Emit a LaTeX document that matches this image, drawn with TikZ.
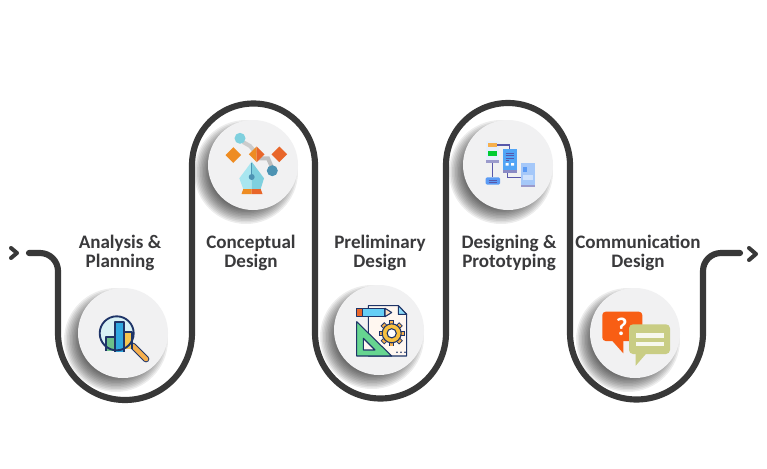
\documentclass[tikz,border=0pt]{standalone}
\usepackage{fontspec}
\setmainfont{Carlito}
\usetikzlibrary{calc}
\definecolor{myline}{RGB}{56,56,56}
\definecolor{mytext}{RGB}{58,58,60}
\definecolor{mydisc}{RGB}{241,241,242}
\definecolor{mynavy}{RGB}{30,52,104}
\definecolor{myorange}{RGB}{238,140,34}
\definecolor{myred}{RGB}{232,102,42}
\definecolor{mycyan}{RGB}{127,208,222}
\definecolor{mypale}{RGB}{168,230,240}
\definecolor{myteal}{RGB}{77,147,179}
\definecolor{myamber}{RGB}{246,176,79}
\definecolor{myblue}{RGB}{91,155,245}
\definecolor{mypurple}{RGB}{88,88,170}
\definecolor{myolive}{RGB}{201,205,132}
\definecolor{myflame}{RGB}{248,94,20}
\definecolor{mygreen}{RGB}{108,192,139}
\definecolor{mysky}{RGB}{47,168,224}
\definecolor{myyellow}{RGB}{245,197,79}

\begin{document}
\begin{tikzpicture}[x=0.75pt,y=-0.75pt]
\tikzstyle{lbl}=[align=center,font=\fontsize{14.3pt}{14.2pt}\selectfont\bfseries,text=mytext,inner sep=0pt]
\tikzstyle{disc}=[circle,fill=mydisc,minimum size=67.5pt,inner sep=0pt]
\tikzstyle{wave}=[draw=myline,line width=4.6pt,line cap=round]
\tikzstyle{tip}=[draw=myline,line width=3pt,line cap=round,line join=round]
\tikzstyle{ink}=[draw=mynavy,line width=.8pt,line join=round]
\useasboundingbox (0,0) rectangle (767,468);
\fill[white] (0,0) rectangle (767,468);

% soft shadows under the discs
\foreach \cx/\cy in {123/333,253/165,379/330,508/165,635/333}{
  \foreach \r in {37,38.5,...,53}{
    \fill[black,opacity=0.07] (\cx-7,\cy+7) circle (\r);
  }
}

% the long line
\coordinate (start) at (29,253);
\coordinate (stop) at (740,253);
\draw[wave] (start) -- (40,253) arc[start angle=270,end angle=360,radius=18]
  -- (58,333) arc[start angle=180,end angle=0,radius=67]
  -- (192,165) arc[start angle=180,end angle=360,radius=61.5]
  -- (315,333) arc[start angle=180,end angle=0,radius=65.5]
  -- (446,165) arc[start angle=180,end angle=360,radius=62]
  -- (570,333) arc[start angle=180,end angle=0,radius=66.5]
  -- (703,271) arc[start angle=180,end angle=270,radius=18] -- (stop);
\draw[tip] (11,248) -- (17,253) -- (11,258);
\draw[tip] (749,248) -- (756,254) -- (749,260);

% discs
\node[disc](d1) at (123,333){};
\node[disc](d2) at (253,165){};
\node[disc](d3) at (379,330){};
\node[disc](d4) at (508,165){};
\node[disc](d5) at (635,333){};

% labels
\node[lbl](t1) at (120,253){Analysis \&\\Planning};
\node[lbl](t2) at (251,252.5){Conceptual\\Design};
\node[lbl](t3) at (380,253){Preliminary\\Design};
\node[lbl](t4) at (509,253){Designing \&\\Prototyping};
\node[lbl](t5) at (638,253){Communication\\Design};

% icon 1, magnifier
\draw[mynavy,line width=5pt,line cap=round] (133,346) -- (146,359);
\draw[myamber,line width=3.4pt,line cap=round] (133,346) -- (146,359);
\fill[white!70!mycyan] (116.7,333.3) circle (17);
\fill[mygreen] (106,337) rectangle (115,351);
\fill[myyellow] (124,332) rectangle (132,349);
\fill[mysky] (115,322) rectangle (124,352);
\draw[ink] (106,351) -- (106,337) -- (115,337);
\draw[ink] (115,352) -- (115,322) -- (124,322) -- (124,352);
\draw[ink] (124,332) -- (132,332) -- (132,349);
\draw[mynavy,line width=1.4pt] (116.7,333.3) circle (17);

% icon 2, pen and nodes
\draw[black!20,line width=3pt] (243,142) -- (250,146) -- (256,153);
\draw[black!25,line width=3pt] (258,158.3) -- (268,158.3) -- (272.3,168);
\fill[mycyan] (240,138.3) circle (5.5);
\fill[myteal] (272.3,170.7) circle (5.5);
\fill[myorange] (225.5,155) -- (233.3,147.2) -- (241.1,155) -- (233.3,162.8) -- cycle;
\fill[myorange] (248.9,154.3) -- (256.7,146.5) -- (256.7,162.1) -- cycle;
\fill[myred] (264.5,154.3) -- (256.7,146.5) -- (256.7,162.1) -- cycle;
\fill[myred] (271.5,154.3) -- (279.3,146.5) -- (287.1,154.3) -- (279.3,162.1) -- cycle;
\fill[mypale] (251.7,161.7) -- (239.3,178.3) -- (243.3,189) -- (251.7,189) -- cycle;
\fill[mycyan] (251.7,161.7) -- (264,178.3) -- (260.7,189) -- (251.7,189) -- cycle;
\draw[myteal,line width=.8pt] (251.7,163) -- (251.7,176);
\fill[myteal] (251.7,177) circle (3);
\fill[myorange] (243.3,189) -- (251.7,189) -- (251.7,194) -- (241.5,194) -- cycle;
\fill[myred] (260.7,189) -- (251.7,189) -- (251.7,194) -- (262.5,194) -- cycle;

% icon 3, sheet, pencil, set square, gear
\draw[ink,fill=orange!6] (368.3,305.7) -- (398.3,305.7) -- (406.7,314.3) -- (406.7,356) -- (368.3,356) -- cycle;
\draw[ink,fill=cyan!45] (398.3,305.7) -- (398.3,314.3) -- (406.7,314.3) -- cycle;
\draw[ink,fill=cyan!60] (362.7,308.3) rectangle (385,316.7);
\draw[ink,fill=myred] (356.7,308.3) rectangle (362.7,316.7);
\draw[ink,fill=orange!25] (385,308.3) -- (391.7,312.5) -- (385,316.7) -- cycle;
\draw[ink,fill=teal!55!green!60] (356.7,321.7) -- (356.7,356) -- (391.7,356) -- cycle;
\draw[ink,fill=orange!6] (363.3,338.3) -- (363.3,350) -- (375,350) -- cycle;
\foreach \a in {0,45,...,315}{
  \fill[mynavy] (391.7,333.3) ++(\a:9.5) ++(\a+90:2.6) -- ++(\a:3.6) -- ++(\a-90:5.2) -- ++(\a:-3.6) -- cycle;
  \fill[myamber] (391.7,333.3) ++(\a:9.5) ++(\a+90:1.7) -- ++(\a:2.7) -- ++(\a-90:3.4) -- ++(\a:-2.7) -- cycle;
}
\draw[mynavy,fill=myamber!80!yellow,line width=.8pt] (391.7,333.3) circle (9.5);
\draw[mynavy,fill=white,line width=.8pt] (391.7,333.3) circle (4.6);
\foreach \x in {397,401,405}{\fill[mynavy] (\x,352.3) circle (.9);}

% icon 4, flow chart and devices
\fill[white!60!myblue!40] (485.7,141) rectangle (499.3,160);
\fill[mypurple!60] (485.7,160) rectangle (499.3,162.7);
\fill[myamber] (488.3,142.7) rectangle (497.3,147.3);
\fill[green!60!teal] (488.3,150.7) rectangle (497.3,156);
\draw[mypurple,line width=1pt] (492.7,162.7) -- (492.7,177.3);
\draw[mypurple,line width=1pt] (497.3,145) -- (509.3,145) -- (509.3,149.3);
\draw[mypurple,line width=1pt] (507.3,172.7) -- (507.3,177.7) -- (520.7,177.7);
\fill[myblue,rounded corners=1pt] (485.7,177.3) rectangle (500,184.7);
\draw[mypurple,line width=.7pt] (488.5,180) -- (497,180) (488.5,182.3) -- (497,182.3);
\fill[myblue!90!cyan] (502.7,149.3) rectangle (517.3,170);
\fill[mypurple!70] (502.7,170) rectangle (517.3,172.7);
\draw[mypurple,line width=.7pt] (505.5,153) -- (514,153) (505.5,155.5) -- (514,155.5) (505.5,158) -- (514,158) (505.5,160.5) -- (509,160.5);
\fill[white] (505.5,163) rectangle (508.5,165.5) (511,163) rectangle (514,165.5);
\fill[myblue!55] (520.7,162.7) rectangle (534.7,184.5);
\fill[mypurple!60] (520.7,184.5) rectangle (534.7,187.3);
\fill[myblue] (523,166.5) rectangle (526.5,171.5);
\fill[white!70!myblue] (523,175) rectangle (532.5,180);

% icon 5, speech bubbles
\fill[myflame,rounded corners=2.5pt] (602.3,311.7) rectangle (642.3,341);
\fill[myflame] (611.5,340) -- (623.3,353.3) -- (623.3,340) -- cycle;
\node[text=white,font=\fontsize{19pt}{19pt}\selectfont\bfseries,inner sep=0pt](q) at (621.7,326.7){?};
\fill[myolive,rounded corners=3pt] (629,324.3) rectangle (670,354);
\fill[myolive] (635.7,353) -- (635.7,365.7) -- (646.7,353) -- cycle;
\fill[white!85!myolive] (635.7,333.3) rectangle (664,337.7);
\fill[white!85!myolive] (635.7,341.7) rectangle (664,345.7);
\end{tikzpicture}
\end{document}
